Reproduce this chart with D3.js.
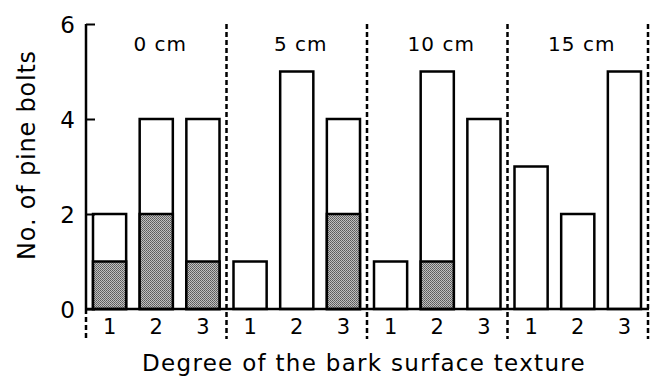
<!DOCTYPE html>
<html>
<head>
<meta charset="utf-8">
<script src="https://cdn.jsdelivr.net/npm/d3@7"></script>
<style>
  body { margin: 0; background: #fff; }
  text { font-family: "DejaVu Sans", sans-serif; fill: #000; }
</style>
</head>
<body>
<svg id="chart" width="651" height="379"></svg>
<script>
var groups = ["0 cm", "5 cm", "10 cm", "15 cm"];
var degrees = ["1", "2", "3"];
var totals = [[2, 4, 4], [1, 5, 4], [1, 5, 4], [3, 2, 5]];
var shaded = [[1, 2, 1], [0, 0, 2], [0, 1, 0], [0, 0, 0]];
var yTicks = [0, 2, 4, 6];

var svg = d3.select("#chart");

// stipple fill for the shaded part
var pat = svg.append("defs").append("pattern")
    .attr("id", "dots")
    .attr("width", 2).attr("height", 2)
    .attr("patternUnits", "userSpaceOnUse");
pat.append("rect").attr("width", 2).attr("height", 2).attr("fill", "#c0c0c0");
pat.append("rect").attr("width", 1).attr("height", 1).attr("fill", "#5a5a5a");
pat.append("rect").attr("x", 1).attr("y", 1).attr("width", 1).attr("height", 1).attr("fill", "#6a6a6a");

var x0 = d3.scaleBand().domain(groups).range([86, 648]);
var x1 = d3.scaleBand().domain(degrees).range([0, x0.bandwidth()])
    .paddingInner(0.29).paddingOuter(0.15);
var y = d3.scaleLinear().domain([0, 6]).range([309, 24]);

var rows = [];
groups.forEach(function(g, i) {
    degrees.forEach(function(d, j) {
        rows.push({g: g, d: d, total: totals[i][j], shaded: shaded[i][j]});
    });
});

// bars: white outline of total
svg.selectAll("rect.total")
    .data(rows)
    .enter()
    .append("rect")
    .attr("class", "total")
    .attr("x", function(d) { return x0(d.g) + x1(d.d); })
    .attr("y", function(d) { return y(d.total); })
    .attr("width", x1.bandwidth())
    .attr("height", function(d) { return y(0) - y(d.total); })
    .attr("fill", "#fff")
    .attr("stroke", "#000")
    .attr("stroke-width", 2.5);

svg.selectAll("rect.shaded")
    .data(rows.filter(function(d) { return d.shaded > 0; }))
    .enter()
    .append("rect")
    .attr("class", "shaded")
    .attr("x", function(d) { return x0(d.g) + x1(d.d); })
    .attr("y", function(d) { return y(d.shaded); })
    .attr("width", x1.bandwidth())
    .attr("height", function(d) { return y(0) - y(d.shaded); })
    .attr("fill", "url(#dots)")
    .attr("stroke", "#000")
    .attr("stroke-width", 2.5);

// dashed group separators
var seps = groups.slice(1).map(function(g) { return x0(g); });
seps.push(x0.range()[1]);
svg.selectAll("line.sep")
    .data(seps)
    .enter()
    .append("line")
    .attr("class", "sep")
    .attr("x1", function(d) { return d; })
    .attr("x2", function(d) { return d; })
    .attr("y1", y(6))
    .attr("y2", 339)
    .attr("stroke", "#000")
    .attr("stroke-width", 2.5)
    .attr("stroke-dasharray", "5,3");
svg.append("line")
    .attr("x1", x0.range()[0]).attr("x2", x0.range()[0])
    .attr("y1", y(0)).attr("y2", 339)
    .attr("stroke", "#000").attr("stroke-width", 2.5)
    .attr("stroke-dasharray", "5,3");

// baseline
svg.append("line")
    .attr("x1", 85).attr("x2", 649)
    .attr("y1", y(0)).attr("y2", y(0))
    .attr("stroke", "#000").attr("stroke-width", 2.5);

// y axis
var axisY = d3.axisLeft(y).tickValues(yTicks).tickFormat(d3.format("d"))
    .tickSize(-9).tickPadding(11);
var gy = svg.append("g")
    .attr("transform", "translate(86,0)")
    .call(axisY);
gy.select(".domain").attr("stroke-width", 2.5).attr("d", "M0," + y(0) + "V" + y(6));
gy.selectAll(".tick line").attr("stroke-width", 2);
gy.selectAll("text").style("font-size", "23px").attr("dy", "0.36em");

// degree labels
svg.selectAll("text.deg")
    .data(rows)
    .enter()
    .append("text")
    .attr("class", "deg")
    .attr("x", function(d) { return x0(d.g) + x1(d.d) + x1.bandwidth() / 2; })
    .attr("y", 334)
    .attr("text-anchor", "middle")
    .style("font-size", "21px")
    .text(function(d) { return d.d; });

// group labels
svg.selectAll("text.grp")
    .data(groups)
    .enter()
    .append("text")
    .attr("class", "grp")
    .attr("x", function(d) { return x0(d) + x0.bandwidth() / 2 + 4; })
    .attr("y", 51)
    .attr("text-anchor", "middle")
    .style("font-size", "20px")
    .style("letter-spacing", "1px")
    .text(function(d) { return d; });

// axis titles
svg.append("text")
    .attr("x", 364)
    .attr("y", 371)
    .attr("text-anchor", "middle")
    .style("font-size", "23px")
    .style("letter-spacing", "1.3px")
    .text("Degree of the bark surface texture");

svg.append("text")
    .attr("transform", "translate(35,155) rotate(-90)")
    .attr("text-anchor", "middle")
    .style("font-size", "24px")
    .style("letter-spacing", "0.8px")
    .text("No. of pine bolts");
</script>
</body>
</html>
